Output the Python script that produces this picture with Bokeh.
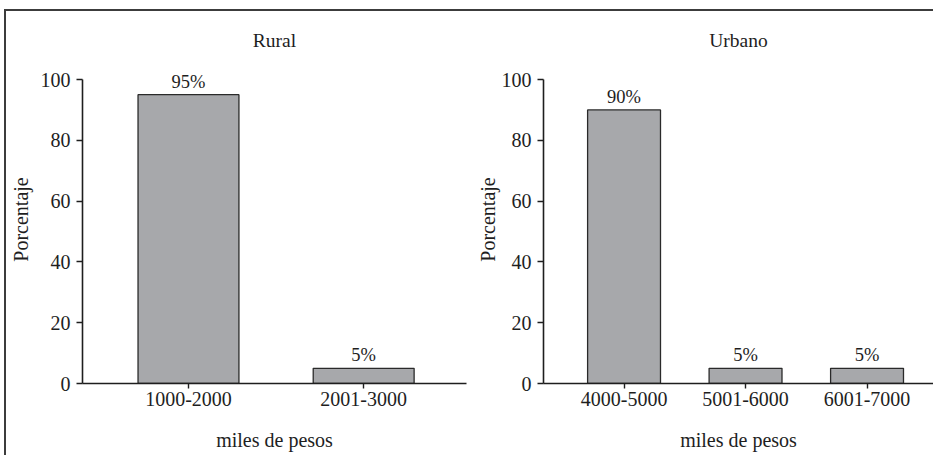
from bokeh.plotting import figure
from bokeh.models import Range1d, FixedTicker, ColumnDataSource, LabelSet
from bokeh.layouts import row
from bokeh.embed import file_html
from bokeh.resources import INLINE

# ---- data ----
rural_cats = ["1000-2000", "2001-3000"]
rural_vals = [95, 5]
urban_cats = ["4000-5000", "5001-6000", "6001-7000"]
urban_vals = [90, 5, 5]
y_ticks = [0, 20, 40, 60, 80, 100]
panel_titles = ["Rural", "Urbano"]
x_title = "miles de pesos"
y_title = "Porcentaje"

FONT = "Liberation Serif"
INK = "#1e1e1e"
BAR = "#a7a8ab"


def make_panel(title, cats, vals, width, min_left, min_right, xr, bar_w, ylab_standoff):
    xs = list(range(1, len(cats) + 1))
    src = ColumnDataSource(dict(x=xs, top=vals, lab=[f"{v}%" for v in vals]))
    p = figure(width=width, height=444, output_backend="svg", toolbar_location=None,
               x_range=Range1d(*xr), y_range=Range1d(0, 107.9),
               min_border_left=min_left, min_border_right=min_right,
               min_border_top=44, min_border_bottom=72,
               title=title)
    p.title.align = "center"
    p.title.text_font = FONT
    p.title.text_font_size = "19.5px"
    p.title.text_font_style = "normal"
    p.title.text_color = INK
    p.vbar(x="x", top="top", width=bar_w, bottom=0, source=src,
           fill_color=BAR, line_color="#2a2a2a", line_width=1.3)
    p.add_layout(LabelSet(x="x", y="top", text="lab", source=src, y_offset=13,
                          text_align="center", text_baseline="middle",
                          text_font=FONT, text_font_size="18.5px", text_color=INK))
    p.xgrid.visible = False
    p.ygrid.visible = False
    p.outline_line_color = None
    p.background_fill_color = "white"
    p.border_fill_color = "white"

    p.xaxis.ticker = FixedTicker(ticks=xs)
    p.xaxis.major_label_overrides = {x: c for x, c in zip(xs, cats)}
    p.yaxis.ticker = FixedTicker(ticks=y_ticks)
    p.yaxis.bounds = (0, 100)
    for ax in (p.xaxis[0], p.yaxis[0]):
        ax.axis_line_color = INK
        ax.axis_line_width = 1.6
        ax.major_tick_line_color = INK
        ax.major_tick_line_width = 1.4
        ax.minor_tick_line_color = None
        ax.major_tick_in = 0
        ax.major_label_text_font = FONT
        ax.major_label_text_font_size = "20px"
        ax.major_label_text_color = INK
        ax.axis_label_text_font = FONT
        ax.axis_label_text_font_size = "20px"
        ax.axis_label_text_font_style = "normal"
        ax.axis_label_text_color = INK
    p.xaxis.major_tick_out = 5
    p.xaxis.major_label_standoff = 3
    p.xaxis.axis_label = x_title
    p.xaxis.axis_label_standoff = 20
    p.yaxis.major_tick_out = 6
    p.yaxis.major_label_standoff = 6
    p.yaxis.axis_label = y_title
    p.yaxis.axis_label_standoff = ylab_standoff
    return p


p1 = make_panel(panel_titles[0], rural_cats, rural_vals, 467, 72, 7, (0.395, 2.587), 0.576, 6)
p2 = make_panel(panel_titles[1], urban_cats, urban_vals, 460, 70, 0, (0.337, 3.547), 0.60, 0)

layout = row(p1, p2, margin=(9, 0, 0, 4),
             styles={"border-left": "2px solid #3c3c3c",
                     "border-top": "2px solid #3c3c3c"})

open("out.html", "w").write(file_html(layout, INLINE))
